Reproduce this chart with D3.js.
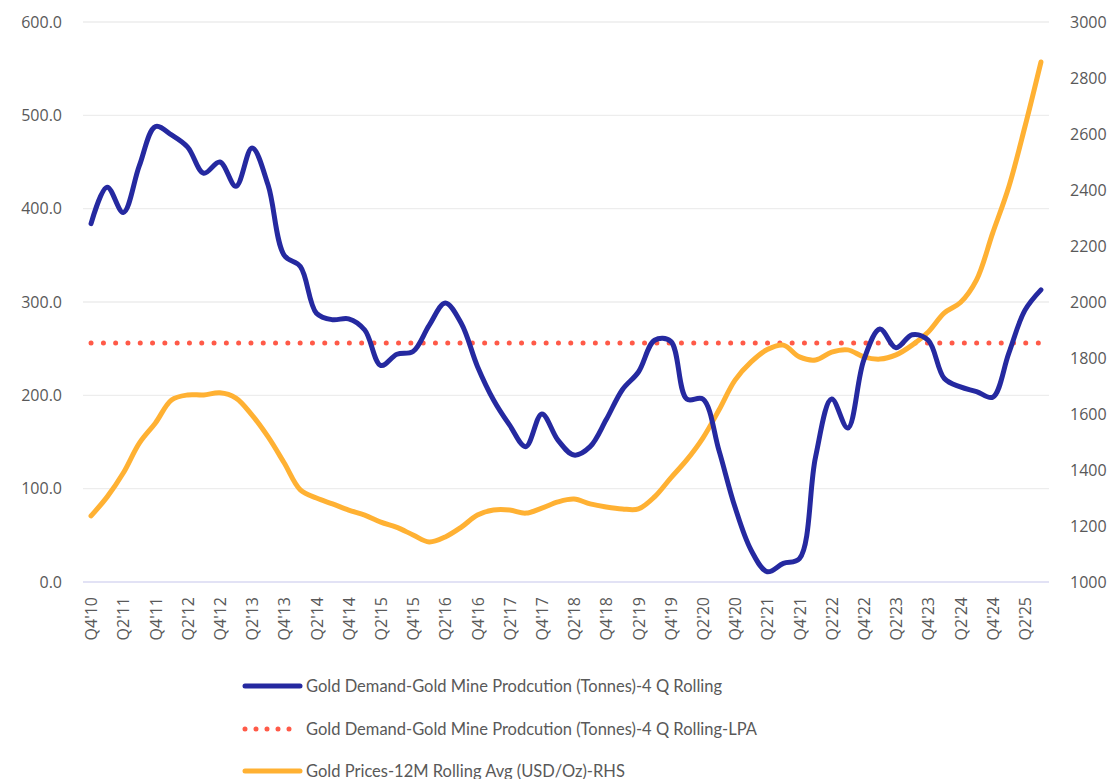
<!DOCTYPE html>
<html>
<head>
<meta charset="utf-8">
<script src="https://cdn.jsdelivr.net/npm/d3@7"></script>
<style>
  body { margin: 0; background: #fff; }
  text { font-family: "Open Sans", "Noto Sans", sans-serif; fill: #595959; }
</style>
</head>
<body>
<div id="chart"></div>
<script>
var width = 1119;
var height = 779;

// quarters Q4'10 .. Q3'25
var quarters = [];
for (var yr = 10; yr <= 25; yr++) {
  for (var q = 1; q <= 4; q++) {
    if (yr === 10 && q < 4) continue;
    if (yr === 25 && q > 3) continue;
    quarters.push("Q" + q + "'" + yr);
  }
}

var demandGap = [384, 423, 396, 446, 488, 479, 466, 438, 450, 424, 465, 425, 350, 338, 288, 281, 282, 270, 232, 244,
                 247, 275, 299, 277, 231, 195, 168, 145, 180, 152, 136, 145, 174, 206, 225, 259, 258, 196, 196, 141,
                 80, 34, 11, 20, 25, 134, 196, 165, 238, 271, 251, 265, 259, 218, 209, 204, 198, 245, 291, 313];
var lpa = 256;
var goldPrice = [1236, 1304, 1389, 1496, 1568, 1650, 1668, 1668, 1676, 1657, 1596, 1518, 1425, 1329, 1300, 1279, 1257, 1239, 1214, 1195,
                 1168, 1143, 1161, 1196, 1239, 1257, 1257, 1246, 1264, 1286, 1296, 1279, 1268, 1261, 1261, 1304, 1371, 1436, 1514, 1614,
                 1721, 1786, 1830, 1846, 1804, 1793, 1821, 1829, 1804, 1796, 1811, 1846, 1893, 1961, 1998, 2079, 2246, 2411, 2625, 2857];

var leftTicks = [0, 100, 200, 300, 400, 500, 600];
var rightTicks = [1000, 1200, 1400, 1600, 1800, 2000, 2200, 2400, 2600, 2800, 3000];

var seriesNames = [
  "Gold Demand-Gold Mine Prodcution (Tonnes)-4 Q Rolling",
  "Gold Demand-Gold Mine Prodcution (Tonnes)-4 Q Rolling-LPA",
  "Gold Prices-12M Rolling Avg (USD/Oz)-RHS"
];
var blue = "#2529A0", red = "#FF5A48", orange = "#FFB133";

var svg = d3.select('#chart').append('svg')
  .attr('width', width)
  .attr('height', height);

var plotLeft = 83, plotRight = 1049, plotTop = 22, plotBottom = 582;

var xScale = d3.scalePoint()
  .domain(quarters)
  .range([plotLeft, plotRight])
  .padding(0.5);

var yLeft = d3.scaleLinear().domain([0, 600]).range([plotBottom, plotTop]);
var yRight = d3.scaleLinear().domain([1000, 3000]).range([plotBottom, plotTop]);

// gridlines
svg.append('g').selectAll('line')
  .data(leftTicks.slice(1))
  .enter().append('line')
  .attr('x1', plotLeft).attr('x2', plotRight)
  .attr('y1', d => yLeft(d)).attr('y2', d => yLeft(d))
  .attr('stroke', '#EDEDED').attr('stroke-width', 1.3);

// bottom axis line
svg.append('line')
  .attr('x1', plotLeft).attr('x2', plotRight)
  .attr('y1', plotBottom).attr('y2', plotBottom)
  .attr('stroke', '#D9D9F2').attr('stroke-width', 1.5);

// left axis labels
var leftAxis = d3.axisLeft(yLeft).tickValues(leftTicks).tickSize(0).tickPadding(0).tickFormat(d3.format('.1f'));
var gl = svg.append('g').attr('transform', 'translate(62,0)').call(leftAxis);
gl.select('.domain').remove();
gl.selectAll('text').style('font-size', '16px').style('font-family', '"Open Sans", sans-serif').attr('fill', '#595959');

var rightAxis = d3.axisRight(yRight).tickValues(rightTicks).tickSize(0).tickPadding(0).tickFormat(d3.format('d'));
var gr = svg.append('g').attr('transform', 'translate(1070,0)').call(rightAxis);
gr.select('.domain').remove();
gr.selectAll('text').style('font-size', '16px').style('font-family', '"Open Sans", sans-serif').attr('fill', '#595959');

// x labels, every second quarter
var xAxis = d3.axisBottom(xScale)
  .tickValues(quarters.filter((d, i) => i % 2 === 0))
  .tickSize(0).tickPadding(0);
var gx = svg.append('g').attr('transform', 'translate(0,' + plotBottom + ')').call(xAxis);
gx.select('.domain').remove();
gx.selectAll('text')
  .style('font-size', '16px')
  .style('font-family', '"Open Sans", sans-serif')
  .attr('fill', '#595959')
  .attr('transform', 'rotate(-90)')
  .attr('x', -15).attr('y', 0).attr('dy', '0.35em')
  .style('text-anchor', 'end');

// lines
var lineLeft = d3.line()
  .x((d, i) => xScale(quarters[i]))
  .y(d => yLeft(d))
  .curve(d3.curveCatmullRom.alpha(0.5));
var lineRight = d3.line()
  .x((d, i) => xScale(quarters[i]))
  .y(d => yRight(d))
  .curve(d3.curveCatmullRom.alpha(0.5));

svg.append('path')
  .attr('d', lineLeft(quarters.map(() => lpa)))
  .attr('fill', 'none').attr('stroke', red)
  .attr('stroke-width', 5).attr('stroke-linecap', 'round')
  .attr('stroke-dasharray', '0 12.3');

svg.append('path')
  .attr('d', lineRight(goldPrice))
  .attr('fill', 'none').attr('stroke', orange)
  .attr('stroke-width', 5).attr('stroke-linecap', 'round').attr('stroke-linejoin', 'round');

svg.append('path')
  .attr('d', lineLeft(demandGap))
  .attr('fill', 'none').attr('stroke', blue)
  .attr('stroke-width', 5).attr('stroke-linecap', 'round').attr('stroke-linejoin', 'round');

// legend
var legendY = [686, 729, 771];
var legendColor = [blue, red, orange];
var lg = svg.append('g');
seriesNames.forEach(function(name, i) {
  var l = lg.append('line')
    .attr('x1', 245).attr('x2', 300)
    .attr('y1', legendY[i]).attr('y2', legendY[i])
    .attr('stroke', legendColor[i]).attr('stroke-width', 5).attr('stroke-linecap', 'round');
  if (i === 1) l.attr('stroke-dasharray', '0 11');
  lg.append('text')
    .attr('x', 306).attr('y', legendY[i]).attr('dy', '0.35em')
    .style('font-size', '16.5px')
    .style('font-family', 'Lato, sans-serif')
    .text(name);
});
</script>
</body>
</html>
